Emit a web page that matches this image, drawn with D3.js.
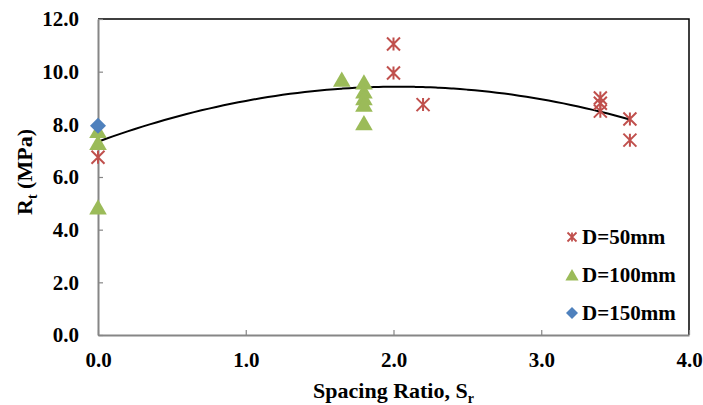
<!DOCTYPE html>
<html>
<head>
<meta charset="utf-8">
<script src="https://cdn.jsdelivr.net/npm/d3@7"></script>
<style>
  body { margin: 0; background: #fff; }
  text { font-family: "Liberation Serif", "Times New Roman", serif; font-weight: bold; }
</style>
</head>
<body>
<div id="chart"></div>
<script>
// series data
var d50x = [0, 2.0, 2.0, 2.2, 3.4, 3.4, 3.4, 3.6, 3.6];
var d50y = [6.75, 11.05, 9.95, 8.75, 9.0, 8.8, 8.5, 8.2, 7.4];
var d100x = [0, 0, 0, 1.65, 1.8, 1.8, 1.8, 1.8, 1.8];
var d100y = [7.75, 7.3, 4.85, 9.7, 9.6, 9.25, 9.0, 8.75, 8.05];
var d150x = [0];
var d150y = [7.95];
var trendCoef = [7.34, 2.056, -0.506]; // quadratic trendline a + b x + c x^2
var xTicks = [0, 1, 2, 3, 4];
var yTicks = [0, 2, 4, 6, 8, 10, 12];
var legendLabels = ["D=50mm", "D=100mm", "D=150mm"];

var W = 703, H = 405,
    margin = {top: 19, right: 14, bottom: 70, left: 98},
    width = W - margin.left - margin.right,
    height = H - margin.top - margin.bottom;

var svg = d3.select("#chart").append("svg")
    .attr("width", W)
    .attr("height", H);

var g = svg.append("g")
    .attr("transform", "translate(" + margin.left + "," + margin.top + ")");

var x = d3.scaleLinear().domain([0, 4]).range([0, width]);
var y = d3.scaleLinear().domain([0, 12]).range([height, 0]);

var red = "#C0504D", green = "#9BBB59", blue = "#4F81BD", grey = "#868686";

// plot frame (top/right)
g.append("path")
    .attr("d", "M0,0H" + width + "V" + height)
    .attr("fill", "none")
    .attr("stroke", "#000")
    .attr("stroke-width", 1.5);

// axes
var xAxis = g.append("g")
    .attr("transform", "translate(0," + height + ")")
    .call(d3.axisBottom(x).tickValues(xTicks).tickSizeInner(-5).tickSizeOuter(0)
      .tickFormat(d3.format(".1f")));
var yAxis = g.append("g")
    .call(d3.axisLeft(y).tickValues(yTicks).tickSizeInner(-5).tickSizeOuter(0)
      .tickFormat(d3.format(".1f")));

[xAxis, yAxis].forEach(function(a) {
  a.select(".domain").attr("stroke", grey).attr("stroke-width", 2);
  a.selectAll(".tick line").attr("stroke", grey).attr("stroke-width", 1.2);
  a.selectAll(".tick text").attr("fill", "#000").style("font-size", "21px");
});
xAxis.selectAll(".tick text").attr("y", 17);
yAxis.selectAll(".tick text").attr("x", -19);

// trendline
var line = d3.line()
    .x(function(d) { return x(d); })
    .y(function(d) { return y(trendCoef[0] + trendCoef[1] * d + trendCoef[2] * d * d); })
    .curve(d3.curveMonotoneX);
g.append("path")
    .datum(d3.range(0, 3.6001, 0.05))
    .attr("d", line)
    .attr("fill", "none")
    .attr("stroke", "#000")
    .attr("stroke-width", 2);

function star(s) {
  return "M" + -s + "," + -s + "L" + s + "," + s +
         "M" + -s + "," + s + "L" + s + "," + -s +
         "M0," + -s + "L0," + s;
}
function tri(s) {
  return "M0," + (-s) + "L" + (s * 1.1) + "," + (s * 0.9) + "L" + (-s * 1.1) + "," + (s * 0.9) + "Z";
}
function diamond(s) {
  return "M0," + -s + "L" + s + ",0L0," + s + "L" + -s + ",0Z";
}

// D=100mm
g.selectAll(".d100")
    .data(d100x.map(function(v, i) { return [v, d100y[i]]; }))
  .enter().append("path")
    .attr("class", "d100")
    .attr("transform", function(d) { return "translate(" + x(d[0]) + "," + y(d[1]) + ")"; })
    .attr("d", tri(8))
    .attr("fill", green);

// D=50mm
g.selectAll(".d50")
    .data(d50x.map(function(v, i) { return [v, d50y[i]]; }))
  .enter().append("path")
    .attr("class", "d50")
    .attr("transform", function(d) { return "translate(" + x(d[0]) + "," + y(d[1]) + ")"; })
    .attr("d", star(6.5))
    .attr("fill", "none")
    .attr("stroke", red)
    .attr("stroke-width", 2);

// D=150mm
g.selectAll(".d150")
    .data(d150x.map(function(v, i) { return [v, d150y[i]]; }))
  .enter().append("path")
    .attr("class", "d150")
    .attr("transform", function(d) { return "translate(" + x(d[0]) + "," + y(d[1]) + ")"; })
    .attr("d", diamond(8))
    .attr("fill", blue);

// legend
var legend = svg.append("g").attr("transform", "translate(572,237)");
var markers = [
  function(sel) { sel.attr("d", star(4.5)).attr("fill", "none").attr("stroke", red).attr("stroke-width", 1.8); },
  function(sel) { sel.attr("d", tri(6)).attr("fill", green); },
  function(sel) { sel.attr("d", diamond(6)).attr("fill", blue); }
];
legendLabels.forEach(function(l, i) {
  var row = legend.append("g").attr("transform", "translate(0," + (i * 38) + ")");
  row.append("path").call(markers[i]);
  row.append("text")
      .attr("x", 10)
      .attr("y", 7)
      .style("font-size", "21px")
      .text(l);
});

// axis titles
var xt = svg.append("text")
    .attr("x", margin.left + x(2))
    .attr("y", 398)
    .attr("text-anchor", "middle")
    .style("font-size", "22px");
xt.append("tspan").text("Spacing Ratio, S");
xt.append("tspan").attr("dy", 5).style("font-size", "14px").text("r");

var yt = svg.append("text")
    .attr("transform", "translate(32,172) rotate(-90)")
    .attr("text-anchor", "middle")
    .style("font-size", "22px");
yt.append("tspan").text("R");
yt.append("tspan").attr("dy", 5).style("font-size", "14px").text("t");
yt.append("tspan").attr("dy", -5).text(" (MPa)");
</script>
</body>
</html>
